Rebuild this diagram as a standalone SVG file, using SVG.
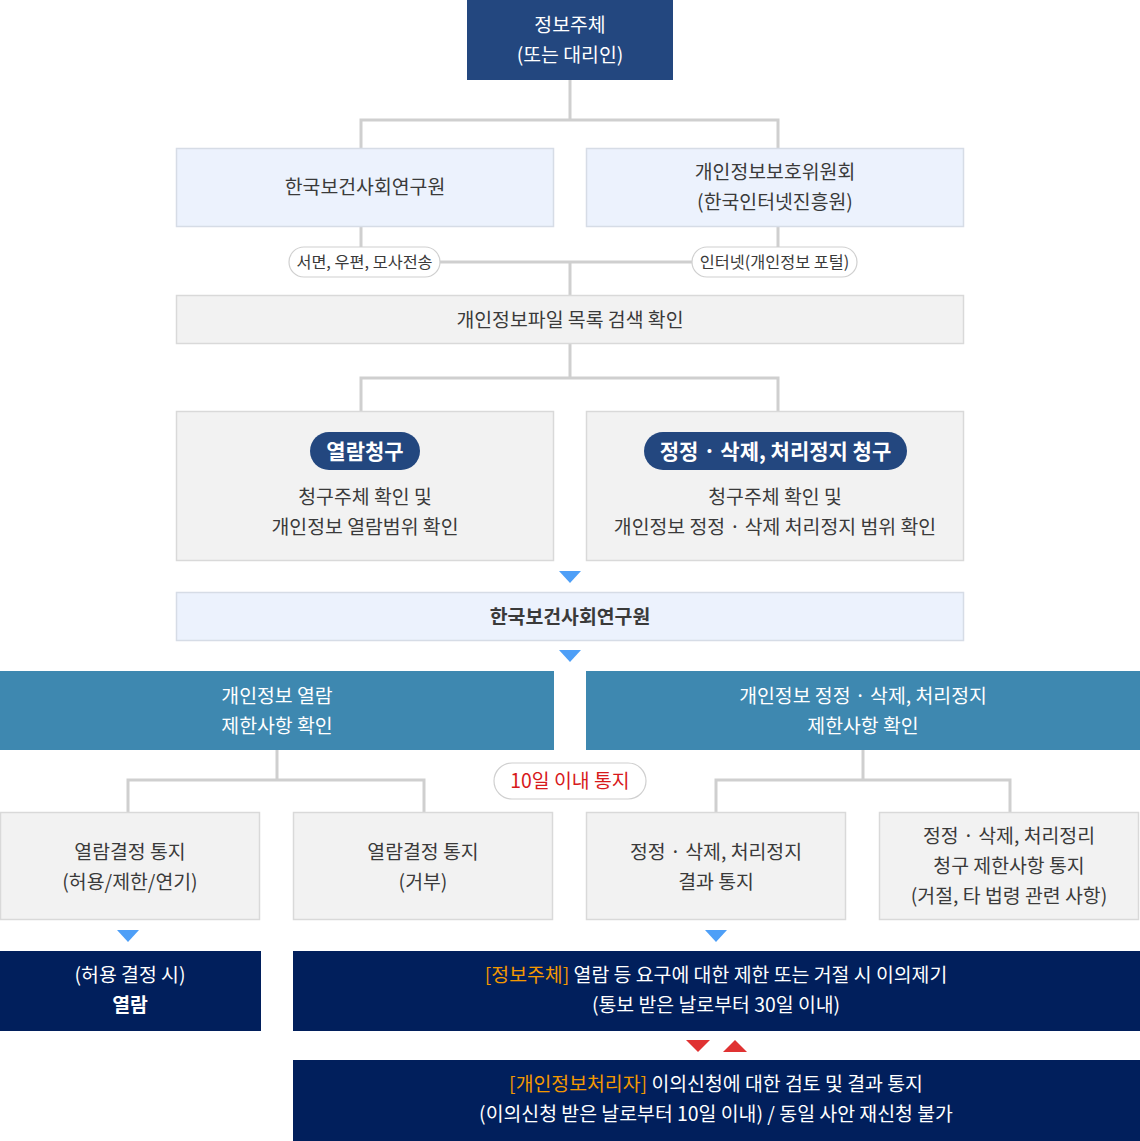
<svg xmlns="http://www.w3.org/2000/svg" width="1140" height="1141" viewBox="0 0 1140 1141">
<style>
text{font-family:"Noto Sans CJK KR","Noto Sans",sans-serif;font-size:19.4px;text-anchor:middle;fill:#3a3a3a}
.w{fill:#fff}
.b{font-weight:bold}
.o{fill:#f39800}
.r{fill:#d7191c}
.sm{font-size:16.3px}
.pt{font-size:21px;font-weight:bold;fill:#fff}
.navy{fill:#23477f}
.lb{fill:#ecf2fd;stroke:#d6dce6;stroke-width:1.5}
.gr{fill:#f2f2f2;stroke:#d9d9d9;stroke-width:1.5}
.teal{fill:#3e88b0}
.dk{fill:#011f5c}
.pill{fill:#fff;stroke:#d0d0d0;stroke-width:1.2}
.ln{fill:none;stroke:#cfcfcf;stroke-width:3}
.tri{fill:#4e9ff7}
.rt{fill:#e03232}
</style>
<g id="connectors">
<path class="ln" d="M570 80V120M361 148V120H778V148"/>
<path class="ln" d="M361 227V262M778 227V262M440 262H692M570 262V295"/>
<path class="ln" d="M570 344V378M361 411V378H778V411"/>
<path class="ln" d="M277 750V780M128 812V780H424V812"/>
<path class="ln" d="M863 750V780M716 812V780H1010V812"/>
<path class="tri" d="M559 571H581L570 583Z"/>
<path class="tri" d="M559 650H581L570 662Z"/>
<path class="tri" d="M117 930H139L128 942Z"/>
<path class="tri" d="M705 930H727L716 942Z"/>
<path class="rt" d="M686 1040H710L698 1052Z"/>
<path class="rt" d="M723 1052H747L735 1040Z"/>
</g>
<g id="n-subject">
<rect class="navy" x="467" y="0" width="206" height="80"/>
<text class="w" x="570" y="32">정보주체</text>
<text class="w" x="570" y="62">(또는 대리인)</text>
</g>
<g id="n-kihasa1">
<rect class="lb" x="176.5" y="148.5" width="377" height="78"/>
<text x="365" y="194">한국보건사회연구원</text>
</g>
<g id="n-pipc">
<rect class="lb" x="586.5" y="148.5" width="377" height="78"/>
<text x="775" y="179">개인정보보호위원회</text>
<text x="775" y="209">(한국인터넷진흥원)</text>
</g>
<g id="n-pill1">
<rect class="pill" x="289" y="247" width="151" height="30" rx="15"/>
<text class="sm" x="364.5" y="268">서면, 우편, 모사전송</text>
</g>
<g id="n-pill2">
<rect class="pill" x="692" y="247" width="165" height="30" rx="15"/>
<text class="sm" x="774.5" y="268">인터넷(개인정보 포털)</text>
</g>
<g id="n-search">
<rect class="gr" x="176.5" y="295.5" width="787" height="48"/>
<text x="570" y="327">개인정보파일 목록 검색 확인</text>
</g>
<g id="n-view-req">
<rect class="gr" x="176.5" y="411.5" width="377" height="149"/>
<rect class="navy" x="310" y="432" width="110" height="38" rx="19"/>
<text class="pt" x="365" y="459">열람청구</text>
<text x="365" y="504">청구주체 확인 및</text>
<text x="365" y="534">개인정보 열람범위 확인</text>
</g>
<g id="n-correct-req">
<rect class="gr" x="586.5" y="411.5" width="377" height="149"/>
<rect class="navy" x="644" y="432" width="263" height="38" rx="19"/>
<text class="pt" x="775.5" y="459">정정 · 삭제, 처리정지 청구</text>
<text x="775" y="504">청구주체 확인 및</text>
<text x="775" y="534">개인정보 정정 · 삭제 처리정지 범위 확인</text>
</g>
<g id="n-kihasa2">
<rect class="lb" x="176.5" y="592.5" width="787" height="48"/>
<text x="570" y="624" style="font-weight:600">한국보건사회연구원</text>
</g>
<g id="n-view-check">
<rect class="teal" x="0" y="671" width="554" height="79"/>
<text class="w" x="277" y="703">개인정보 열람</text>
<text class="w" x="277" y="733">제한사항 확인</text>
</g>
<g id="n-correct-check">
<rect class="teal" x="586" y="671" width="554" height="79"/>
<text class="w" x="863" y="703">개인정보 정정 · 삭제, 처리정지</text>
<text class="w" x="863" y="733">제한사항 확인</text>
</g>
<g id="n-10day">
<rect class="pill" x="494" y="763" width="152" height="36" rx="18"/>
<text class="r" x="570" y="788">10일 이내 통지</text>
</g>
<g id="n-d1">
<rect class="gr" x="0.5" y="812.5" width="259" height="107"/>
<text x="130" y="859">열람결정 통지</text>
<text x="130" y="889">(허용/제한/연기)</text>
</g>
<g id="n-d2">
<rect class="gr" x="293.5" y="812.5" width="259" height="107"/>
<text x="423" y="859">열람결정 통지</text>
<text x="423" y="889">(거부)</text>
</g>
<g id="n-d3">
<rect class="gr" x="586.5" y="812.5" width="259" height="107"/>
<text x="716" y="859">정정 · 삭제, 처리정지</text>
<text x="716" y="889">결과 통지</text>
</g>
<g id="n-d4">
<rect class="gr" x="879.5" y="812.5" width="259" height="107"/>
<text x="1009" y="843">정정 · 삭제, 처리정리</text>
<text x="1009" y="873">청구 제한사항 통지</text>
<text x="1009" y="903">(거절, 타 법령 관련 사항)</text>
</g>
<g id="n-view">
<rect class="dk" x="0" y="951" width="261" height="80"/>
<text class="w" x="130" y="982">(허용 결정 시)</text>
<text class="w b" x="130" y="1012">열람</text>
</g>
<g id="n-objection">
<rect class="dk" x="293" y="951" width="847" height="80"/>
<text class="w" x="716" y="982"><tspan class="o">[정보주체]</tspan> 열람 등 요구에 대한 제한 또는 거절 시 이의제기</text>
<text class="w" x="716" y="1012">(통보 받은 날로부터 30일 이내)</text>
</g>
<g id="n-review">
<rect class="dk" x="293" y="1060" width="847" height="81"/>
<text class="w" x="716" y="1091"><tspan class="o">[개인정보처리자]</tspan> 이의신청에 대한 검토 및 결과 통지</text>
<text class="w" x="716" y="1121">(이의신청 받은 날로부터 10일 이내) / 동일 사안 재신청 불가</text>
</g>
</svg>
